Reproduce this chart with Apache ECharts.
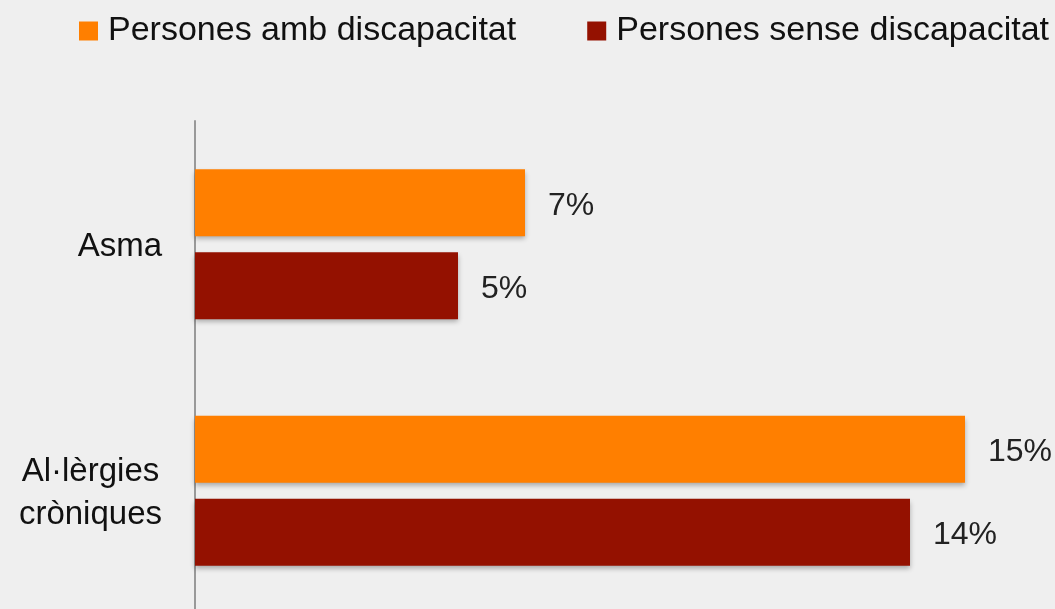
<!DOCTYPE html>
<html>
<head>
<meta charset="utf-8">
<script src="https://cdn.jsdelivr.net/npm/echarts@6/dist/echarts.min.js"></script>
<style>
html,body{margin:0;padding:0;background:#efefef;overflow:hidden;}
#chart{width:1055px;height:614px;}
</style>
</head>
<body>
<div id="chart"></div>
<script>
const categories = ['Asma', 'Al·lèrgies\ncròniques'];
const seriesNames = ['Persones amb discapacitat', 'Persones sense discapacitat'];
const withDisability = [6.6, 15.4];
const withoutDisability = [5.26, 14.3];

const FONT = '"Liberation Sans", Arial, sans-serif';
const chart = echarts.init(document.getElementById('chart'));
const labelCfg = {
  show: true,
  position: 'right',
  distance: 23,
  offset: [0, 3],
  fontFamily: FONT,
  fontSize: 32,
  color: '#222',
  formatter: p => Math.round(p.value) + '%'
};
const shadow = {shadowColor: 'rgba(0,0,0,0.3)', shadowBlur: 5, shadowOffsetY: 3};
chart.setOption({
  backgroundColor: '#efefef',
  animation: false,
  legend: {
    left: 74,
    top: 9,
    itemWidth: 19,
    itemHeight: 19,
    itemGap: 71,
    icon: 'rect',
    textStyle: {fontFamily: FONT, fontSize: 34, color: '#111', padding: [0, 0, 0, 5]},
    data: seriesNames
  },
  grid: {left: 195, right: 0, top: 121, bottom: 0, containLabel: false},
  xAxis: {
    type: 'value', min: 0, max: 17.2,
    show: false
  },
  yAxis: {
    type: 'category',
    data: categories,
    inverse: true,
    axisLine: {show: true, lineStyle: {color: '#999', width: 2}},
    axisTick: {show: false},
    axisLabel: {
      margin: 33,
      align: 'right',
      fontFamily: FONT,
      fontSize: 33,
      color: '#111',
      lineHeight: 43,
      formatter: v => v.split('\n').map(s => '{c|' + s + '}').join('\n'),
      rich: {c: {align: 'center', fontFamily: FONT, fontSize: 33, color: '#111', lineHeight: 43, padding: [5, 0, 0, 0]}}
    }
  },
  series: [
    {
      name: seriesNames[0], type: 'bar', data: withDisability,
      barWidth: 67, barGap: '24%',
      itemStyle: Object.assign({color: '#FF7F00'}, shadow),
      label: labelCfg
    },
    {
      name: seriesNames[1], type: 'bar', data: withoutDisability,
      barWidth: 67, barGap: '24%',
      itemStyle: Object.assign({color: '#941100'}, shadow),
      label: labelCfg
    }
  ]
});
</script>
</body>
</html>
